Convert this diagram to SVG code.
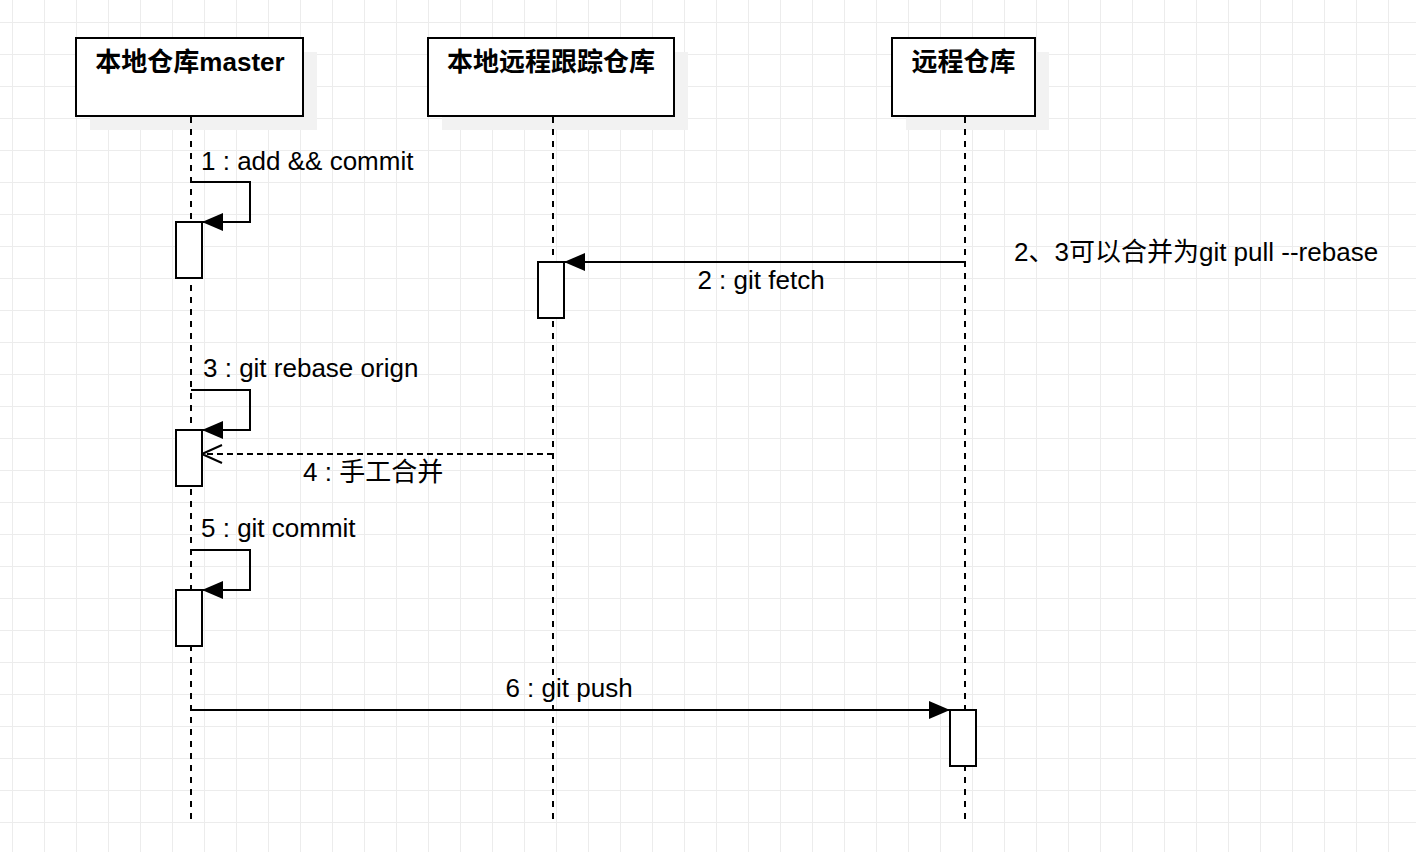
<svg xmlns="http://www.w3.org/2000/svg" width="1416" height="852" viewBox="0 0 1416 852">
<defs>
<pattern id="grid" x="12" y="22" width="32" height="32" patternUnits="userSpaceOnUse">
<path d="M0 0H32M0 0V32" fill="none" stroke="#ececec" stroke-width="2"/>
</pattern>
<marker id="filled" viewBox="0 0 21 18" refX="21" refY="9" markerWidth="21" markerHeight="18" markerUnits="userSpaceOnUse" orient="auto">
<path d="M0 0L21 9L0 18Z" fill="#000"/>
</marker>
<marker id="open" viewBox="0 0 22 22" refX="21" refY="11" markerWidth="22" markerHeight="22" markerUnits="userSpaceOnUse" orient="auto">
<path d="M1 2L21 11L1 20" fill="none" stroke="#000" stroke-width="2"/>
</marker>
</defs>
<style>
.hdr{fill:#fff;stroke:#000;stroke-width:2}
.shadow{fill:#f2f2f2}
.ht{font-family:"Liberation Sans","Noto Sans CJK SC",sans-serif;font-size:26px;font-weight:bold;text-anchor:middle;fill:#000}
.t{font-family:"Liberation Sans","Noto Sans CJK SC",sans-serif;font-size:26px;fill:#000}
.life{stroke:#000;stroke-width:2;stroke-dasharray:6 6;fill:none}
.act{fill:#fff;stroke:#000;stroke-width:2}
.msg{stroke:#000;stroke-width:2;fill:none}
</style>
<rect width="1416" height="852" fill="#fff"/>
<rect width="1416" height="852" fill="url(#grid)"/>

<g id="shadows">
<rect class="shadow" x="90" y="52" width="227" height="78"/>
<rect class="shadow" x="442" y="52" width="246" height="78"/>
<rect class="shadow" x="906" y="52" width="143" height="78"/>
</g>

<g id="lifelines">
<path class="life" d="M191 117V820"/>
<path class="life" d="M553 117V820"/>
<path class="life" d="M965 117V820"/>
</g>

<g id="node-local-master">
<rect class="hdr" x="76" y="38" width="227" height="78"/>
<text class="ht" x="190" y="71">本地仓库master</text>
</g>
<g id="node-remote-tracking">
<rect class="hdr" x="428" y="38" width="246" height="78"/>
<text class="ht" x="551" y="71">本地远程跟踪仓库</text>
</g>
<g id="node-remote">
<rect class="hdr" x="892" y="38" width="143" height="78"/>
<text class="ht" x="963.5" y="71">远程仓库</text>
</g>

<g id="activations">
<rect class="act" x="176" y="222" width="26" height="56"/>
<rect class="act" x="538" y="262" width="26" height="56"/>
<rect class="act" x="176" y="430" width="26" height="56"/>
<rect class="act" x="176" y="590" width="26" height="56"/>
<rect class="act" x="950" y="710" width="26" height="56"/>
</g>

<g id="connectors">
<path class="msg" d="M191 182H250V222H202" marker-end="url(#filled)"/>
<path class="msg" d="M965 262H564" marker-end="url(#filled)"/>
<path class="msg" d="M191 390H250V430H202" marker-end="url(#filled)"/>
<path class="msg" d="M553 454H202" stroke-dasharray="6 4" marker-end="url(#open)"/>
<path class="msg" d="M191 550H250V590H202" marker-end="url(#filled)"/>
<path class="msg" d="M191 710H950" marker-end="url(#filled)"/>
</g>

<g id="labels">
<text class="t" x="201" y="170">1 : add &amp;&amp; commit</text>
<text class="t" x="761" y="289" text-anchor="middle">2 : git fetch</text>
<text class="t" x="203" y="377">3 : git rebase orign</text>
<text class="t" x="303" y="481">4 : 手工合并</text>
<text class="t" x="201" y="537">5 : git commit</text>
<text class="t" x="569" y="697" text-anchor="middle">6 : git push</text>
</g>

<g id="note">
<text class="t" x="1014" y="261">2、3可以合并为git pull --rebase</text>
</g>
</svg>
